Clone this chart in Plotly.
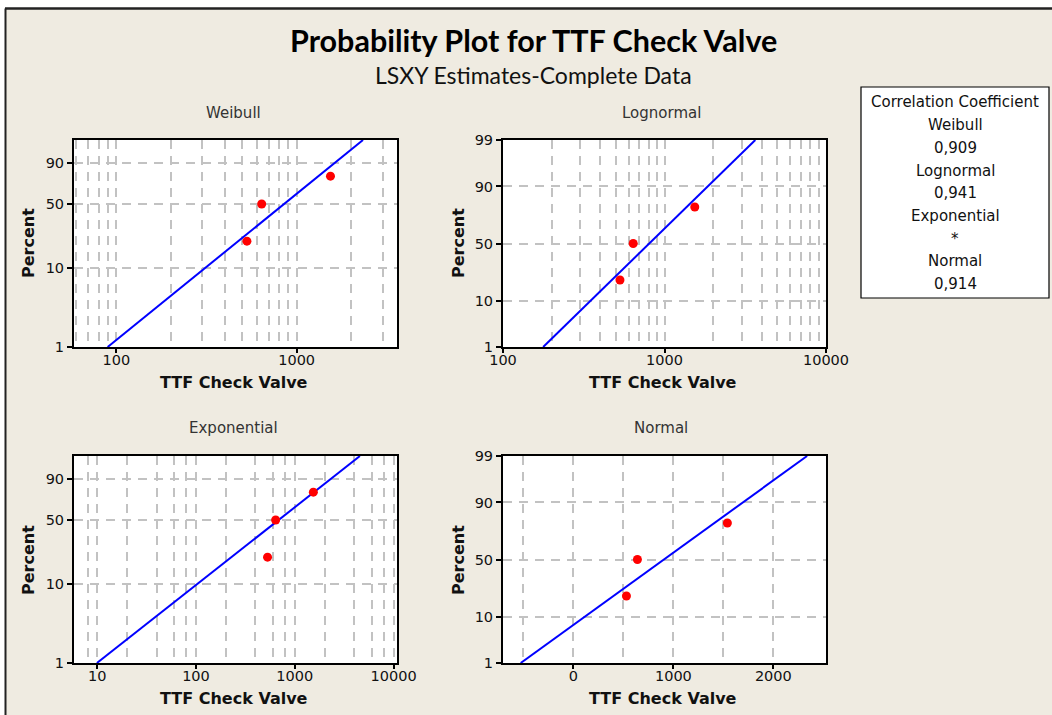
import math
import statistics
import plotly.graph_objects as go

# ---- data -------------------------------------------------------------
ttf_hours = [530, 640, 1540]          # failure times of the check valve
plot_percent = [20.6, 50.0, 79.4]     # median-rank plotting positions (%)

# LSXY fitted parameters
weibull_shape, weibull_scale = 1.88, 1035
lognormal_loc, lognormal_scale = 6.69, 0.65
exponential_mean = 990
normal_mean, normal_sd = 905, 616

fit_percent_span = [1, 99]            # fitted line drawn between these percentiles

corr_labels = ["Weibull", "Lognormal", "Exponential", "Normal"]
corr_values = ["0,909", "0,941", "*", "0,914"]

prob_ticks_weibull = [1, 10, 50, 90]
prob_ticks_normal = [1, 10, 50, 90, 99]

x_ticks_weibull = [100, 1000]
x_minor_weibull = [60, 70, 80, 90, 200, 300, 400, 500, 600, 700, 800, 900, 2000, 3000]
x_ticks_lognormal = [100, 1000, 10000]
x_minor_lognormal = [200, 300, 400, 500, 600, 700, 800, 900,
                     2000, 3000, 4000, 5000, 6000, 7000, 8000, 9000]
x_ticks_exponential = [10, 100, 1000, 10000]
x_minor_exponential = [8, 20, 40, 60, 80, 200, 400, 600, 800, 2000, 4000, 6000, 8000]
x_ticks_normal = [0, 1000, 2000]
x_minor_normal = [-500, 500, 1500]

# ---- scale transforms --------------------------------------------------
STD = statistics.NormalDist()


def weib_y(p):
    return math.log(-math.log(1 - p / 100.0))


def norm_y(p):
    return STD.inv_cdf(p / 100.0)


W, H = 1052, 715
BEIGE = "#EFEBE1"
GRID = "#C2C2C2"
DASH = "9px,7px"


def px(x):
    return x / W


def py(y):
    return 1 - y / H


fig = go.Figure()

# Weibull panel
wy = [weib_y(p) for p in fit_percent_span]
fig.add_trace(go.Scatter(x=[weibull_scale * math.exp(v / weibull_shape) for v in wy], y=wy,
                         mode="lines", line=dict(color="#0000FF", width=2),
                         xaxis="x", yaxis="y", showlegend=False))
fig.add_trace(go.Scatter(x=ttf_hours, y=[weib_y(p) for p in plot_percent], mode="markers",
                         marker=dict(color="#FF0000", size=9),
                         xaxis="x", yaxis="y", showlegend=False))

# Lognormal panel
ly = [norm_y(p) for p in fit_percent_span]
fig.add_trace(go.Scatter(x=[math.exp(lognormal_loc + lognormal_scale * v) for v in ly], y=ly,
                         mode="lines", line=dict(color="#0000FF", width=2),
                         xaxis="x2", yaxis="y2", showlegend=False))
fig.add_trace(go.Scatter(x=ttf_hours, y=[norm_y(p) for p in plot_percent], mode="markers",
                         marker=dict(color="#FF0000", size=9),
                         xaxis="x2", yaxis="y2", showlegend=False))

# Exponential panel
ey = [weib_y(p) for p in fit_percent_span]
fig.add_trace(go.Scatter(x=[exponential_mean * math.exp(v) for v in ey], y=ey,
                         mode="lines", line=dict(color="#0000FF", width=2),
                         xaxis="x3", yaxis="y3", showlegend=False))
fig.add_trace(go.Scatter(x=ttf_hours, y=[weib_y(p) for p in plot_percent], mode="markers",
                         marker=dict(color="#FF0000", size=9),
                         xaxis="x3", yaxis="y3", showlegend=False))

# Normal panel
ny = [norm_y(p) for p in fit_percent_span]
fig.add_trace(go.Scatter(x=[normal_mean + normal_sd * v for v in ny], y=ny,
                         mode="lines", line=dict(color="#0000FF", width=2),
                         xaxis="x4", yaxis="y4", showlegend=False))
fig.add_trace(go.Scatter(x=ttf_hours, y=[norm_y(p) for p in plot_percent], mode="markers",
                         marker=dict(color="#FF0000", size=9),
                         xaxis="x4", yaxis="y4", showlegend=False))

tick_font = dict(family="DejaVu Sans", size=14.5, color="#111111")


def x_axis(domain, anchor, ticks, minor, log, rng):
    d = dict(domain=domain, anchor=anchor, range=rng, automargin=False,
             tickmode="array", tickvals=ticks, ticktext=[str(t) for t in ticks],
             showline=True, linecolor="black", linewidth=2, mirror=True,
             ticks="outside", ticklen=4, tickwidth=1.5, tickcolor="black",
             ticklabelstandoff=-5,
             showgrid=True, gridcolor=GRID, gridwidth=1.5, griddash=DASH,
             zeroline=False, tickfont=tick_font, fixedrange=True,
             minor=dict(tickmode="array", tickvals=minor, showgrid=True,
                        gridcolor=GRID, gridwidth=1.5, griddash=DASH, ticks=""))
    if log:
        d["type"] = "log"
    return d


def y_axis(domain, anchor, ticks, fn):
    return dict(domain=domain, anchor=anchor, automargin=False,
                range=[fn(1), fn(99)],
                tickmode="array", tickvals=[fn(t) for t in ticks],
                ticktext=[str(t) for t in ticks],
                showline=True, linecolor="black", linewidth=2, mirror=True,
                ticks="outside", ticklen=5, tickwidth=1.5, tickcolor="black",
                showgrid=True, gridcolor=GRID, gridwidth=1.5, griddash=DASH,
                zeroline=False, tickfont=tick_font, fixedrange=True)


left_dom = [px(74), px(397)]
right_dom = [px(503), px(826)]
top_dom = [py(347), py(140)]
bot_dom = [py(663), py(456)]

fig.update_layout(
    xaxis=x_axis(left_dom, "y", x_ticks_weibull, x_minor_weibull, True,
                 [math.log10(58.3), math.log10(3600)]),
    yaxis=y_axis(top_dom, "x", prob_ticks_weibull, weib_y),
    xaxis2=x_axis(right_dom, "y2", x_ticks_lognormal, x_minor_lognormal, True, [2, 4]),
    yaxis2=y_axis(top_dom, "x2", prob_ticks_normal, norm_y),
    xaxis3=x_axis(left_dom, "y3", x_ticks_exponential, x_minor_exponential, True,
                  [0.766, 4.034]),
    yaxis3=y_axis(bot_dom, "x3", prob_ticks_weibull, weib_y),
    xaxis4=x_axis(right_dom, "y4", x_ticks_normal, x_minor_normal, False, [-705, 2527]),
    yaxis4=y_axis(bot_dom, "x4", prob_ticks_normal, norm_y),
)

annotations = []


def text(x, y, s, size, bold=False, family="DejaVu Sans", color="#111111", angle=0):
    annotations.append(dict(x=px(x), y=py(y), xref="paper", yref="paper",
                            text=f"<b>{s}</b>" if bold else s, showarrow=False,
                            xanchor="center", yanchor="middle", textangle=angle,
                            font=dict(family=family, size=size, color=color)))


text(533, 40, "Probability Plot for TTF Check Valve", 30.5, bold=True, family="Lato", color="#000000")
text(533, 75, "LSXY Estimates-Complete Data", 23, family="Lato", color="#111111")

for cx, cy, name in [(234, 113, "Weibull"), (661, 113, "Lognormal"),
                     (234, 428, "Exponential"), (661, 428, "Normal")]:
    text(cx, cy, name, 15, color="#333333")

for cx, cy in [(234, 382), (663, 382), (234, 698), (663, 698)]:
    text(cx, cy, "TTF Check Valve", 16, bold=True, color="#111111")

for cx, cy in [(28, 243), (458, 243), (28, 560), (458, 560)]:
    text(cx, cy, "Percent", 16, bold=True, color="#111111", angle=-90)

# correlation coefficient box
box_lines = ["Correlation Coefficient"]
for lab, val in zip(corr_labels, corr_values):
    box_lines += [lab, val]
for i, s in enumerate(box_lines):
    text(955, 102.5 + 22.7 * i, s, 15, color="#111111")

fig.update_layout(annotations=annotations)

shapes = [
    # white strips outside the framed chart area
    dict(type="rect", xref="paper", yref="paper", x0=0, x1=1, y0=py(8), y1=1,
         fillcolor="white", line=dict(width=0), layer="below"),
    dict(type="rect", xref="paper", yref="paper", x0=0, x1=px(5), y0=0, y1=1,
         fillcolor="white", line=dict(width=0), layer="below"),
    # frame
    dict(type="line", xref="paper", yref="paper", x0=px(5), x1=1, y0=py(8.5), y1=py(8.5),
         line=dict(color="#222222", width=2.5)),
    dict(type="line", xref="paper", yref="paper", x0=px(5.5), x1=px(5.5), y0=0, y1=py(8.5),
         line=dict(color="#222222", width=2)),
    # correlation box
    dict(type="rect", xref="paper", yref="paper", x0=px(861), x1=px(1049), y0=py(298), y1=py(87),
         fillcolor="white", line=dict(color="black", width=1.2), layer="below"),
]
fig.update_layout(shapes=shapes)

fig.update_layout(
    width=W, height=H, margin=dict(l=0, r=0, t=0, b=0, autoexpand=False),
    paper_bgcolor=BEIGE, plot_bgcolor="white", showlegend=False,
)

fig.write_html("out.html", config={"displayModeBar": False})
